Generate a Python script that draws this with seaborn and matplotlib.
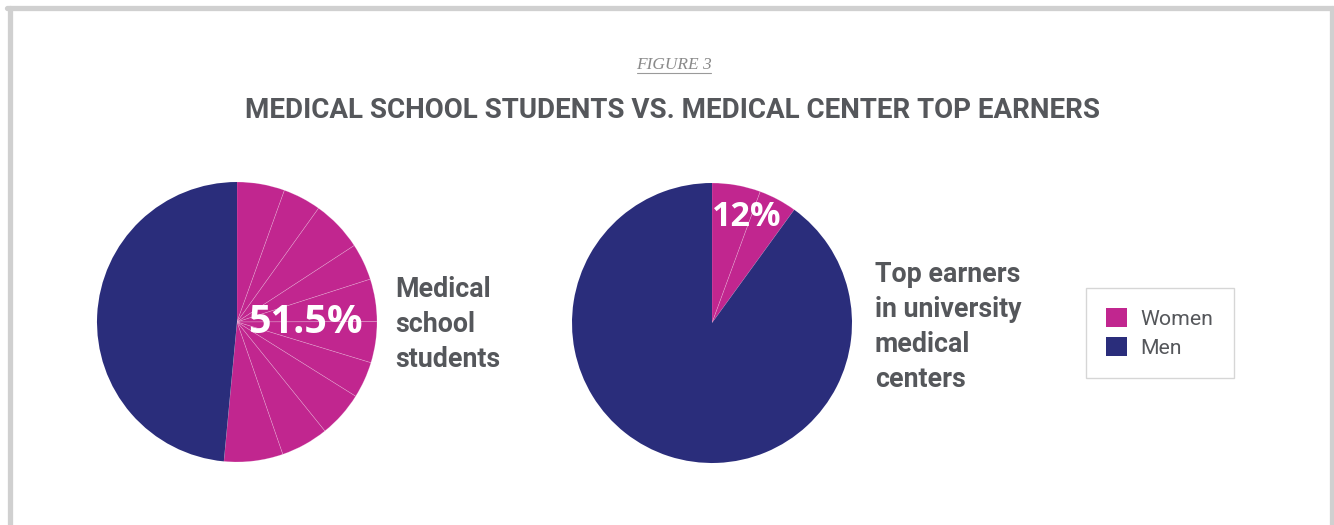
import numpy as np
import matplotlib
matplotlib.use("Agg")
import matplotlib.pyplot as plt
import seaborn as sns
from matplotlib.patches import Patch
from matplotlib.lines import Line2D

# data (pink slices are drawn as separate thin wedges)
student_women_parts = [5.5, 4.4, 5.9, 4.25, 4.9, 4.75, 4.2, 5.3, 5.5, 6.8]
student_men = 48.5
earner_women_parts = [5.6, 4.4]
earner_men = 90.0
student_label = "51.5%"
earner_label = "12%"
series_names = ["Women", "Men"]

PINK = "#C1268F"
NAVY = "#2A2D7B"
GREY = "#55575B"

sns.set_theme(style="white")
plt.rcParams['font.family'] = ['Roboto', 'DejaVu Sans']

W, H = 1334, 525
fig = plt.figure(figsize=(W / 100, H / 100), dpi=100)
fig.patch.set_facecolor("white")


def fx(x):
    return x / W


def fy(y):
    return 1 - y / H


def draw_pie(cx, cy, r, women_parts, men):
    ax = fig.add_axes([fx(cx - r), fy(cy + r), 2 * r / W, 2 * r / H])
    vals = list(women_parts) + [men]
    cols = [PINK] * len(women_parts) + [NAVY]
    wedges, _ = ax.pie(vals, colors=cols, startangle=90, counterclock=False,
                       wedgeprops=dict(edgecolor=(1, 1, 1, 0.25), linewidth=0.5))
    wedges[-1].set_edgecolor(NAVY)
    wedges[-1].set_linewidth(0)
    ax.set_xlim(-1, 1)
    ax.set_ylim(-1, 1)
    ax.set_aspect("equal")
    ax.axis("off")
    return ax


draw_pie(237, 322, 140, student_women_parts, student_men)
draw_pie(712, 323, 140, earner_women_parts, earner_men)

# percentage labels
fig.text(fx(305), fy(333), student_label, color="white", fontsize=28.5,
         fontweight="bold", family=["Open Sans", "DejaVu Sans"], ha="center", va="baseline")
fig.text(fx(747), fy(226), earner_label, color="white", fontsize=24.5,
         fontweight="bold", family=["Open Sans", "DejaVu Sans"], ha="center", va="baseline")

# side labels
for i, line in enumerate(["Medical", "school", "students"]):
    fig.text(fx(395), fy(297 + 35 * i), line, color=GREY, fontsize=19.3,
             fontweight="bold", ha="left", va="baseline")
for i, line in enumerate(["Top earners", "in university", "medical", "centers"]):
    fig.text(fx(875), fy(282 + 35 * i), line, color=GREY, fontsize=19.3,
             fontweight="bold", ha="left", va="baseline")

# title and figure number
fig.text(fx(673), fy(118), "MEDICAL SCHOOL STUDENTS VS. MEDICAL CENTER TOP EARNERS",
         color=GREY, fontsize=20, fontweight="bold",
         family=["Roboto", "DejaVu Sans"], ha="center", va="baseline")
fig.text(fx(674), fy(69), "FIGURE 3", color="#8A8A8A", fontsize=12.5, style="italic",
         family=["Liberation Serif", "DejaVu Serif"], ha="center", va="baseline")
fig.add_artist(Line2D([fx(637), fx(711)], [fy(72.5), fy(72.5)], color="#9A9A9A", lw=0.8))

# legend
handles = [Patch(facecolor=PINK, edgecolor="none"), Patch(facecolor=NAVY, edgecolor="none")]
leg = fig.legend(handles, series_names, loc="upper left",
                 bbox_to_anchor=(fx(1086), fy(288)), bbox_transform=fig.transFigure,
                 borderaxespad=0, frameon=True, fancybox=False, fontsize=15.3,
                 handlelength=1.0, handleheight=1.0, handletextpad=0.62,
                 labelspacing=0.4, borderpad=0.95)
leg.get_frame().set_edgecolor("#CCCCCC")
leg.get_frame().set_linewidth(1.0)
for t in leg.get_texts():
    t.set_color(GREY)

# outer frame (grey, open at the bottom)
lw = 3.8
fig.add_artist(Line2D([fx(9.8), fx(9.8)], [fy(8), 0], color="#D0D0D0", lw=lw))
fig.add_artist(Line2D([fx(7), fx(1334)], [fy(8), fy(8)], color="#D0D0D0", lw=lw))
fig.add_artist(Line2D([fx(1332), fx(1332)], [fy(8), 0], color="#D0D0D0", lw=lw))

fig.savefig("out.png", dpi=100, facecolor="white")
